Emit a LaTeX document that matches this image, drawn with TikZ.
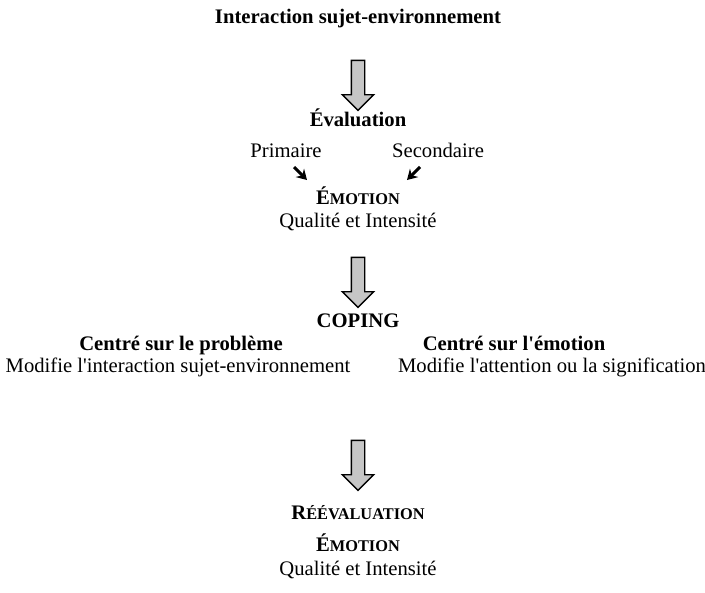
\documentclass[tikz,border=0pt]{standalone}
\usepackage{fontspec}
\setmainfont{Liberation Serif}
\usetikzlibrary{shapes.arrows,arrows.meta}
\newcommand{\fakesc}[2]{#1{\fontsize{9.8}{11}\selectfont #2}}
\begin{document}
\begin{tikzpicture}[x=0.6pt,y=-0.6pt,
	txt/.style={inner sep=0pt,text height=9pt,text depth=3pt,font=\fontsize{12.4}{14}\selectfont},
	btxt/.style={txt,font=\fontsize{12.4}{14}\selectfont\bfseries},
	bigarrow/.style={single arrow,draw,thick,fill=gray!45,shape border rotate=270,minimum height=30pt,inner sep=3.6pt,text height=0pt,text depth=0pt,single arrow head extend=5.4pt},
	smallarrow/.style={line width=1.8pt,-{Stealth[length=6pt,width=7pt]}}]
	\useasboundingbox (0,0) rectangle (705,592);
	\node[btxt](inter)at(358,18) {Interaction sujet-environnement};
	\node[bigarrow](a1)at(358,82) {};
	\node[btxt](eval)at(358,121) {Évaluation};
	\node[txt](prim)at(286,152) {Primaire};
	\node[txt](sec)at(438,152) {Secondaire};
	\node[btxt](emo)at(358,199) {\fakesc{É}{MOTION}};
	\node[txt](qual)at(358,222) {Qualité et Intensité};
	\node[bigarrow](a2)at(358,279) {};
	\node[btxt](coping)at(358,322) {COPING};
	\node[btxt](prob)at(181,345) {Centré sur le problème};
	\node[txt](modprob)at(178,367) {Modifie l\textquotesingle interaction sujet-environnement};
	\node[btxt](cemo)at(514,345) {Centré sur l\textquotesingle émotion};
	\node[txt](modemo)at(552,367) {Modifie l\textquotesingle attention ou la signification};
	\node[bigarrow](a3)at(358,462) {};
	\node[btxt](reeval)at(358,514) {\fakesc{R}{ÉÉVALUATION}};
	\node[btxt](emo2)at(358,546) {\fakesc{É}{MOTION}};
	\node[txt](qual2)at(358,570) {Qualité et Intensité};
	
	\coordinate (p1)at(294,167);
	\coordinate (p2)at(307,180);
	\coordinate (s1)at(420,167);
	\coordinate (s2)at(407,180);
	\draw[smallarrow](p1) -- (p2);
	\draw[smallarrow](s1) -- (s2);
\end{tikzpicture}
\end{document}
